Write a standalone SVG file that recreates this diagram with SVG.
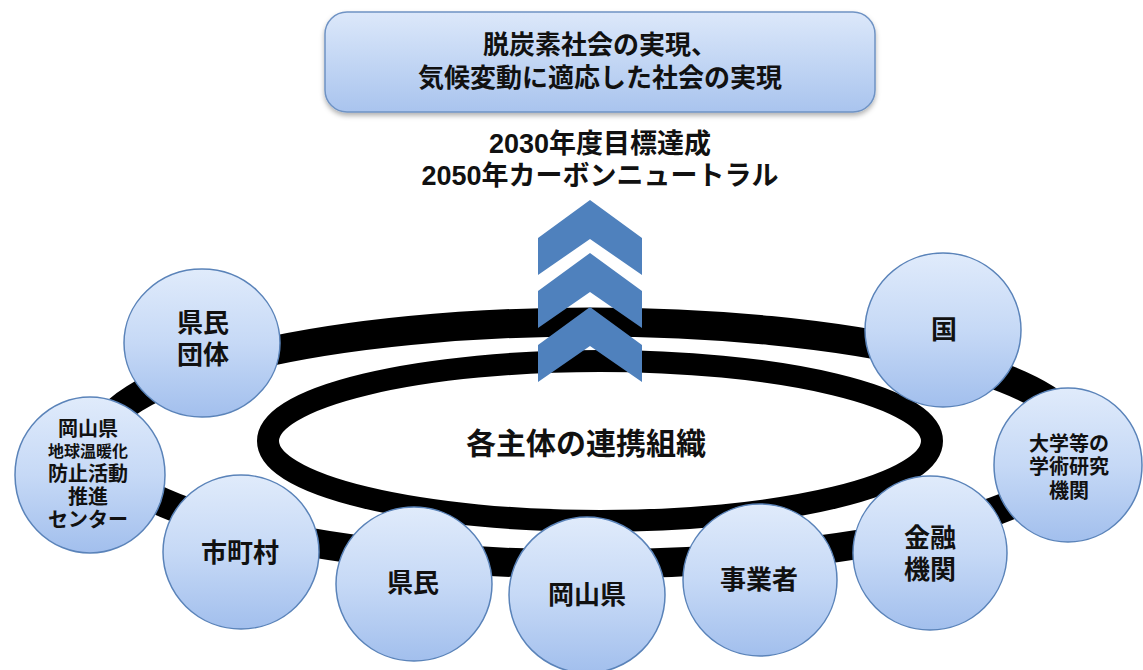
<svg xmlns="http://www.w3.org/2000/svg" width="1143" height="670" viewBox="0 0 1143 670">
<defs>
<linearGradient id="gBox" x1="0" y1="0" x2="0" y2="1">
<stop offset="0" stop-color="#dce8fa"/>
<stop offset="1" stop-color="#a9c4ee"/>
</linearGradient>
<linearGradient id="gCirc" x1="0" y1="0" x2="0" y2="1">
<stop offset="0" stop-color="#e0ebfb"/>
<stop offset="0.5" stop-color="#c6d9f6"/>
<stop offset="1" stop-color="#a2bfed"/>
</linearGradient>
<filter id="shadow" x="-10%" y="-10%" width="120%" height="130%">
<feDropShadow dx="0" dy="3" stdDeviation="2.5" flood-color="#000" flood-opacity="0.3"/>
</filter>
<path id="chev" d="M0,0 L52,38 L52,75 L0,39 L-52,75 L-52,38 Z"/>
</defs>
<style>
text{font-family:"Liberation Sans","Noto Sans CJK JP",sans-serif;font-weight:bold;fill:#111;text-anchor:middle;dominant-baseline:central}
.node{fill:url(#gCirc);stroke:#5a83b9;stroke-width:1.5}
.t26{font-size:26px}
.t20{font-size:20px}
.t16{font-size:16px}
.chev{fill:#4f81bd}
</style>
<rect width="1143" height="670" fill="#fff"/>

<g id="goal">
<rect x="325" y="12" width="550" height="100" rx="22" ry="22" fill="url(#gBox)" stroke="#6f93c4" stroke-width="1.5" filter="url(#shadow)"/>
<text class="t26" x="600" y="45">脱炭素社会の実現、</text>
<text class="t26" x="600" y="78">気候変動に適応した社会の実現</text>
</g>

<g id="target">
<text x="600" y="144" style="font-size:27px">2030年度目標達成</text>
<text x="600" y="175.5" style="font-size:27px">2050年カーボンニュートラル</text>
</g>

<g id="connectors">
<ellipse cx="590" cy="443" rx="490" ry="121" fill="none" stroke="#000" stroke-width="29"/>
</g>

<g id="org">
<ellipse cx="600" cy="441" rx="332" ry="80" fill="#fff" stroke="#000" stroke-width="22"/>
<text x="586" y="443" style="font-size:30px">各主体の連携組織</text>
</g>

<g id="arrows">
<use href="#chev" class="chev" x="590" y="200"/>
<use href="#chev" class="chev" x="590" y="253"/>
<use href="#chev" class="chev" x="590" y="307"/>
</g>

<g id="kenmin-dantai">
<ellipse class="node" cx="202" cy="343" rx="78" ry="74"/>
<text class="t26" x="203" y="323">県民</text>
<text class="t26" x="203" y="355">団体</text>
</g>

<g id="center">
<ellipse class="node" cx="90" cy="475" rx="75" ry="78"/>
<text class="t20" x="88" y="429">岡山県</text>
<text class="t16" x="88" y="451">地球温暖化</text>
<text class="t20" x="88" y="474">防止活動</text>
<text class="t20" x="88" y="497">推進</text>
<text class="t20" x="88" y="520">センター</text>
</g>

<g id="shichoson">
<ellipse class="node" cx="241" cy="552" rx="78" ry="77"/>
<text class="t26" x="240" y="553">市町村</text>
</g>

<g id="kenmin">
<ellipse class="node" cx="414" cy="584" rx="78" ry="77"/>
<text class="t26" x="413" y="583">県民</text>
</g>

<g id="okayama">
<ellipse class="node" cx="587" cy="595" rx="78" ry="78"/>
<text class="t26" x="587" y="595">岡山県</text>
</g>

<g id="jigyosha">
<ellipse class="node" cx="760" cy="580" rx="77" ry="76"/>
<text class="t26" x="759" y="580">事業者</text>
</g>

<g id="kinyu">
<ellipse class="node" cx="930" cy="553" rx="77" ry="77"/>
<text class="t26" x="930" y="538">金融</text>
<text class="t26" x="930" y="570">機関</text>
</g>

<g id="daigaku">
<ellipse class="node" cx="1068" cy="465" rx="74" ry="77"/>
<text class="t20" x="1069" y="444">大学等の</text>
<text class="t20" x="1069" y="467">学術研究</text>
<text class="t20" x="1069" y="491">機関</text>
</g>

<g id="kuni">
<ellipse class="node" cx="943" cy="330" rx="78" ry="77"/>
<text class="t26" x="944" y="330">国</text>
</g>
</svg>
